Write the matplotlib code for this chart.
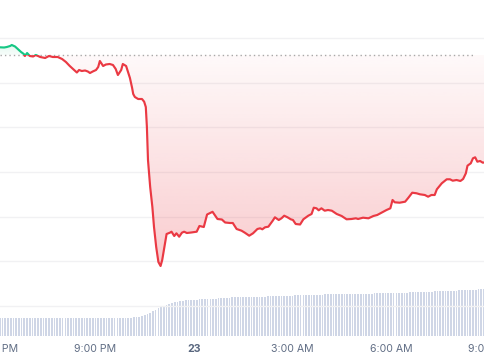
import numpy as np
import matplotlib
matplotlib.use("Agg")
import matplotlib.pyplot as plt
from matplotlib.patches import Rectangle, PathPatch
from matplotlib.path import Path

# ---- data (time in minutes from midnight of the 23rd, price in arbitrary units) ----
minutes = [-355, -347, -342, -336, -333, -327, -322, -316, -311, -309, -305, -300, -294, -289,
           -281, -272, -265, -258, -249, -241, -234, -227, -219, -214, -210, -205, -199, -194,
           -190, -185, -179, -175, -172, -166, -161, -154, -148, -143, -139, -133, -130, -124,
           -121, -117, -113, -111, -108, -102, -95, -91, -88, -86, -84, -80, -76, -73, -69,
           -65, -61, -58, -54, -50, -44, -41, -36, -32, -27, -22, -18, -13, -5, 5, 10, 18,
           24, 34, 43, 51, 57, 66, 71, 78, 87, 93, 101, 108, 116, 121, 125, 130, 136, 144,
           148, 155, 160, 165, 171, 177, 181, 186, 194, 200, 209, 215, 219, 224, 228, 233,
           239, 245, 252, 261, 270, 279, 288, 296, 300, 309, 319, 328, 335, 343, 352, 359,
           363, 367, 376, 386, 392, 399, 407, 413, 422, 428, 434, 440, 444, 453, 462, 468,
           473, 480, 487, 492, 497, 500, 506, 510, 514, 518, 523, 528, 532]
price = [288.7, 288.5, 289, 290, 291, 289.5, 287, 284, 282, 280, 283, 280, 279.5, 281,
         279, 278, 280, 279, 279, 277, 274, 270, 266, 263.5, 266, 265, 265.5, 264.5,
         263, 264.5, 266, 269, 275, 270, 271.5, 272, 271, 267, 261, 266, 272, 270,
         265, 258, 248, 242, 239, 237, 237, 234.3, 229, 209, 176, 149, 129, 109, 89,
         74, 70, 76, 89, 102, 103.3, 104.3, 100, 102.7, 99.3, 103.3, 104.3, 103, 103.5, 104.3, 110, 109,
         121.5, 124.2, 117, 116.5, 113.5, 113, 113, 107, 105.3, 103.3, 100.3, 102.7, 107, 107.7, 106.7, 108.7, 109.3, 115.3,
         118.7, 116, 117.7, 120.3, 118.7, 116.7, 116, 112, 111.5, 116.7, 120.3, 122, 128.3, 127.7, 125.7, 127.7,
         125.3, 126, 125.3, 122, 120, 116.7, 117, 117.7, 117, 118.3, 117.7, 120, 121, 123.3, 126, 127.7,
         136, 133.7, 133.3, 134.3, 138.3, 143.3, 142.7, 141.7, 141, 139.3, 141, 141, 146.7, 152.7, 156.7, 156.7,
         155.3, 156, 155, 157, 162.7, 170.3, 172.7, 177.7, 178.7, 174.3, 175, 173.3, 173.7]
reference_price = 281  # opening price (dotted line)

volume_start = -355   # first bar, minutes
volume_step = 5       # minutes per bar
volume = [
    18.0, 18.0, 18.0, 18.0, 18.0, 18.0, 18.0, 18.0, 18.0, 18.0,
    18.0, 18.0, 18.0, 18.0, 18.0, 18.0, 18.0, 18.0, 18.0, 18.0,
    18.0, 18.0, 18.0, 18.0, 18.0, 18.0, 18.0, 18.0, 18.0, 18.0,
    18.0, 18.0, 18.0, 18.0, 18.0, 18.0, 18.0, 18.0, 18.2, 18.2,
    18.3, 18.3, 18.3, 18.3, 18.3, 18.4, 18.4, 18.4, 18.5, 18.6,
    19.0, 19.5, 20.0, 21.0, 22.0, 23.5, 25.0, 26.5, 28.0, 29.5,
    30.5, 31.5, 32.5, 33.3, 34.0, 34.5, 35.0, 35.3, 35.6, 35.9,
    36.1, 36.3, 36.5, 36.6, 36.8, 36.9, 37.0, 37.2, 37.4, 37.5,
    37.7, 37.9, 38.1, 38.3, 38.5, 38.6, 38.7, 38.8, 38.8, 38.9,
    38.9, 39.0, 39.0,
    39.1, 39.2, 39.3, 39.4, 39.5, 39.6, 39.7, 39.8, 39.9, 40.0,
    40.1, 40.2, 40.3, 40.4, 40.5, 40.6, 40.8, 41.0,
    41.1, 41.1, 41.2, 41.3, 41.3, 41.4, 41.5, 41.5, 41.6, 41.7,
    41.7, 41.8, 41.9, 41.9, 42.0, 42.0, 42.1, 42.1, 42.2, 42.2,
    42.3, 42.3, 42.4, 42.4, 42.5, 42.5, 42.6, 42.6, 42.7, 42.7,
    42.8, 42.9, 42.9, 43.0, 43.1, 43.2, 43.3,
    43.4, 43.5, 43.6, 43.7, 43.8, 43.9, 44.0, 44.1, 44.2, 44.3,
    44.5, 44.6, 44.7, 44.8, 44.9, 45.0, 45.1, 45.3, 45.4, 45.5,
    45.6, 45.8, 45.9, 46.0, 46.1, 46.3, 46.5, 46.7, 46.9, 47.0]

tick_minutes = [-360, -180, 0, 180, 360, 540]
tick_labels = ["6:00 PM", "9:00 PM", "23", "3:00 AM", "6:00 AM", "9:00 AM"]

# ---- style ----
RED = "#ea3943"
GREEN = "#16c784"
VOL = "#cfd6e6"
GRID = "#f1f1f3"
TXT = "#616e85"

plt.rcParams['font.family'] = ['Inter', 'DejaVu Sans']

W, H = 485, 360
fig = plt.figure(figsize=(W / 100, H / 100), dpi=100)
fig.patch.set_facecolor("white")
rect = [0, 24 / H, 1, 336 / H]

x0, x1 = -354.5, 532
y0, y1 = 0, 336

# volume axes (behind)
axv = fig.add_axes(rect, zorder=1)
vt = volume_start + volume_step * np.arange(len(volume))
axv.bar(vt, volume, width=volume_step * 0.62, color=VOL, linewidth=0)
axv.set_xlim(x0, x1)
axv.set_ylim(0, 336)
axv.axis("off")

# price axes (front)
ax = fig.add_axes(rect, zorder=2)
ax.patch.set_alpha(0)
ax.set_xlim(x0, x1)
ax.set_ylim(y0, y1)
for s in ax.spines.values():
    s.set_visible(False)
ax.set_xticks([])
ax.set_yticks([])

for g in np.linspace(30, 298, 7):
    ax.axhline(g, color=GRID, lw=1, zorder=1)

t = np.array(minutes, dtype=float)
p = np.array(price, dtype=float)
base = reference_price


def gradient_fill(lower, color, a_near, a_far, far_val):
    """Vertical gradient clipped to the area between the line and the reference."""
    rgb = matplotlib.colors.to_rgb(color)
    n = 256
    img = np.zeros((n, 1, 4))
    img[..., 0], img[..., 1], img[..., 2] = rgb
    if lower:
        img[:, 0, 3] = np.linspace(a_near, a_far, n)
        ext = (x0, x1, far_val, base)
        yy = np.minimum(p, base)
    else:
        img[:, 0, 3] = np.linspace(a_far, a_near, n)
        ext = (x0, x1, base, far_val)
        yy = np.maximum(p, base)
    verts = [(t[0], base)] + list(zip(t, yy)) + [(t[-1], base), (t[0], base)]
    codes = [Path.MOVETO] + [Path.LINETO] * (len(verts) - 2) + [Path.CLOSEPOLY]
    patch = PathPatch(Path(verts, codes), facecolor="none", edgecolor="none",
                      transform=ax.transData)
    ax.add_patch(patch)
    im = ax.imshow(img, extent=ext, aspect="auto", interpolation="bicubic",
                   origin="upper", zorder=2)
    im.set_clip_path(patch)


gradient_fill(True, RED, 0.03, 0.26, p.min())
gradient_fill(False, GREEN, 0.03, 0.12, p.max())

# reference dotted line
ax.axhline(base, xmin=0, xmax=0.978, color="#a8a8a8", lw=1.0,
           linestyle=(0, (1, 2.2)), zorder=3)

# price line split in colour at the reference
red_line, = ax.plot(t, p, color=RED, lw=1.55, zorder=4, solid_joinstyle="round")
red_line.set_clip_path(Rectangle((x0, y0), x1 - x0, base - y0, transform=ax.transData))
green_line, = ax.plot(t, p, color=GREEN, lw=1.55, zorder=4, solid_joinstyle="round")
green_line.set_clip_path(Rectangle((x0, base), x1 - x0, y1 - base, transform=ax.transData))

# x labels (edge labels are partly outside the figure, as in the original)
for m, lab in zip(tick_minutes, tick_labels):
    bold = lab == "23"
    ax.annotate(lab, xy=(m, 0), xycoords=("data", "axes fraction"),
                xytext=(0, -9.4), textcoords="offset points",
                ha="center", va="center", fontsize=7.6,
                color="#58667e" if bold else TXT,
                fontweight="bold" if bold else "normal",
                annotation_clip=False)

fig.savefig("out.png", dpi=100, facecolor="white")
